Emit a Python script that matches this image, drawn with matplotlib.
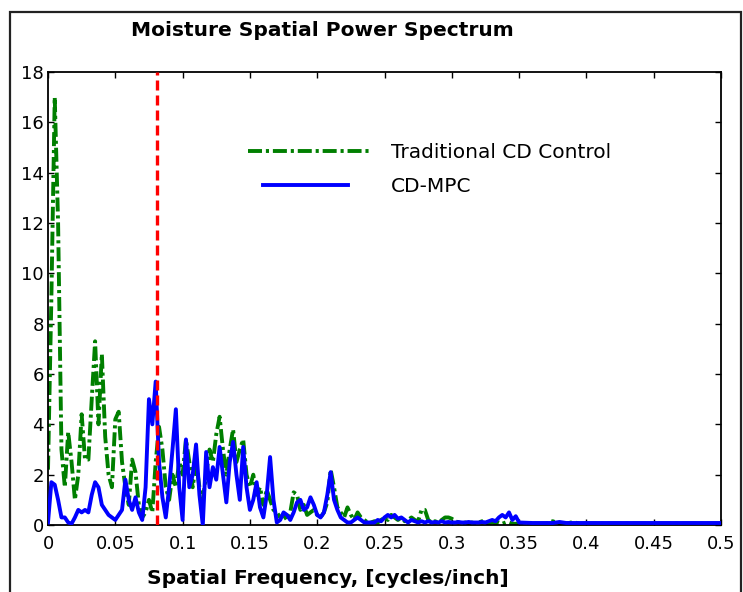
import numpy as np
import matplotlib
matplotlib.use("Agg")
import matplotlib.pyplot as plt
from matplotlib.patches import Rectangle

# ---------------- data ----------------
STEP = 0.0025  # frequency grid spacing, cycles/inch

traditional_fine = [
    2.2, 9.0, 17.0, 12.0, 3.0, 1.5, 3.7, 2.5, 1.0, 2.0,
    4.4, 2.6, 2.6, 5.0, 7.3, 4.0, 6.8, 3.5, 2.0, 1.5,
    4.2, 4.5, 2.5, 1.5, 0.8, 2.6, 2.1, 0.8, 0.3, 0.5,
    1.0, 0.5, 2.5, 3.9, 3.0, 1.5, 1.0, 2.0, 1.5, 2.5,
    2.0, 3.4, 2.5, 1.5, 2.5, 1.5, 1.0, 2.0, 3.0, 2.5,
    3.6, 4.3, 3.0, 2.0, 3.0, 3.8, 2.5, 3.0, 3.4, 2.0,
    1.5, 2.0, 1.2, 1.5, 0.8, 1.4, 1.0, 0.6, 0.5, 0.3,
    0.4, 0.2, 0.5, 1.3, 1.2, 0.6, 0.8, 0.4, 0.5, 0.6,
    0.4, 0.3, 0.5, 0.9, 2.2, 1.5, 0.7, 0.5, 0.3, 0.7,
    0.4, 0.2, 0.5, 0.3, 0.2, 0.1, 0.1, 0.15, 0.1, 0.2,
    0.3, 0.2, 0.4, 0.3, 0.2, 0.3, 0.15, 0.2, 0.3, 0.2,
    0.15, 0.6, 0.6, 0.2, 0.1, 0.15, 0.1, 0.2, 0.3, 0.3,
    0.25, 0.15, 0.1, 0.05, 0.1, 0.05, 0.1, 0.05, 0.1, 0.15,
    0.1, 0.05, 0.1, 0.05, 0.1, 0.05, 0.1, 0.1, 0.05, 0.05,
    0.05,
]

cdmpc_fine = [
    0.1, 1.7, 1.6, 1.0, 0.3, 0.3, 0.1, 0.05, 0.3, 0.6,
    0.5, 0.6, 0.5, 1.2, 1.7, 1.5, 0.8, 0.6, 0.4, 0.3,
    0.2, 0.4, 0.6, 1.8, 1.0, 0.6, 1.1, 0.5, 0.2, 1.5,
    5.0, 4.0, 5.7, 2.5, 1.1, 0.3, 1.5, 3.0, 4.6, 1.5,
    0.2, 3.4, 1.5, 2.0, 3.2, 1.2, 0.0, 2.9, 1.5, 2.3,
    1.8, 3.1, 2.0, 0.9, 2.5, 3.3, 2.0, 1.0, 3.1, 1.5,
    0.6, 1.0, 1.7, 0.7, 0.3, 1.2, 2.7, 1.0, 0.1, 0.2,
    0.5, 0.4, 0.2, 0.5, 0.9, 1.0, 0.6, 0.7, 1.1, 0.8,
    0.4, 0.3, 0.5, 1.2, 2.1, 1.0, 0.6, 0.3, 0.2, 0.1,
    0.1, 0.2, 0.3, 0.2, 0.1, 0.1, 0.1, 0.1, 0.2, 0.15,
    0.3, 0.4, 0.3, 0.4, 0.25, 0.3, 0.2, 0.1, 0.2, 0.15,
    0.1, 0.15, 0.1, 0.15, 0.1, 0.12, 0.1, 0.15, 0.1, 0.12,
    0.1, 0.1, 0.12, 0.1, 0.1, 0.12, 0.1, 0.1, 0.1, 0.12,
    0.1, 0.15, 0.2, 0.15, 0.3, 0.4, 0.3, 0.5, 0.2, 0.35,
    0.1,
]

freq_tail = [0.36, 0.37, 0.375, 0.38, 0.385, 0.39, 0.395, 0.4, 0.45, 0.5]
traditional_tail = [0.05, 0.05, 0.15, 0.05, 0.05, 0.12, 0.05, 0.05, 0.05, 0.05]
cdmpc_tail = [0.08, 0.08, 0.08, 0.12, 0.08, 0.08, 0.08, 0.08, 0.08, 0.08]

cutoff_freq = 0.081

x_ticks = [0, 0.05, 0.1, 0.15, 0.2, 0.25, 0.3, 0.35, 0.4, 0.45, 0.5]
x_tick_labels = ["0", "0.05", "0.1", "0.15", "0.2", "0.25", "0.3", "0.35", "0.4", "0.45", "0.5"]
y_ticks = [0, 2, 4, 6, 8, 10, 12, 14, 16, 18]

series_labels = ["Traditional CD Control", "CD-MPC"]
title_text = "Moisture Spatial Power Spectrum"
xlabel_text = "Spatial Frequency, [cycles/inch]"

# ---------------- assemble ----------------
freq = np.concatenate([np.arange(len(traditional_fine)) * STEP, freq_tail])
trad = np.concatenate([traditional_fine, traditional_tail])
mpc = np.concatenate([cdmpc_fine, cdmpc_tail])

W, H = 743, 592
fig = plt.figure(figsize=(W / 100, H / 100), dpi=100)
fig.patch.set_facecolor("white")

ax = fig.add_axes([48 / W, (H - 525) / H, (721 - 48) / W, (525 - 72) / H])

lw = 2.8
green_line, = ax.plot(freq, trad, color="#007f00", lw=lw,
                      linestyle=(0, (3.6, 1.0, 0.8, 1.0)),
                      label=series_labels[0], zorder=2)
blue_line, = ax.plot(freq, mpc, color="#0000ff", lw=lw, label=series_labels[1],
                     zorder=3)
ax.axvline(cutoff_freq, color="#ff0000", lw=2.4, linestyle=(0, (3.0, 1.5)),
           zorder=4)

ax.set_xlim(0, 0.5)
ax.set_ylim(0, 18)
ax.set_xticks(x_ticks)
ax.set_xticklabels(x_tick_labels)
ax.set_yticks(y_ticks)
for s in ax.spines.values():
    s.set_linewidth(1.3)
    s.set_color("black")
ax.tick_params(direction="in", top=True, right=True, length=4, width=1,
               labelsize=13, colors="black")
ax.tick_params(axis="x", pad=7)
ax.tick_params(axis="y", pad=3)

leg = ax.legend(handles=[green_line, blue_line], loc="upper left",
                bbox_to_anchor=(248 / W, 1 - 143 / H),
                bbox_transform=fig.transFigure, frameon=False,
                fontsize=14.5, handlelength=6.1, handletextpad=1.0,
                labelspacing=0.75, borderpad=0, borderaxespad=0)
# the reference draws the solid-line sample shorter than the dash-dot one
bl = leg.get_lines()[1]
bx = np.asarray(bl.get_xdata(), dtype=float)
by = np.asarray(bl.get_ydata(), dtype=float)
span = bx.max() - bx.min()
bl.set_data(np.linspace(bx.min() + span * 15 / 122, bx.min() + span * 99 / 122, len(by)), by)

fig.text(322 / W, 1 - 30 / H, title_text, ha="center", va="center",
         fontsize=14.5, fontweight="bold", family="DejaVu Sans")
fig.text(328 / W, 1 - 578 / H, xlabel_text, ha="center", va="center",
         fontsize=14.5, fontweight="bold", family="DejaVu Sans")

# outer frame of the figure panel
fig.patches.append(Rectangle((10 / W, -0.02), (741 - 10) / W, (H - 12) / H + 0.02,
                             transform=fig.transFigure, fill=False,
                             edgecolor="#222222", lw=1.6))

fig.savefig("out.png", dpi=100, facecolor="white")
